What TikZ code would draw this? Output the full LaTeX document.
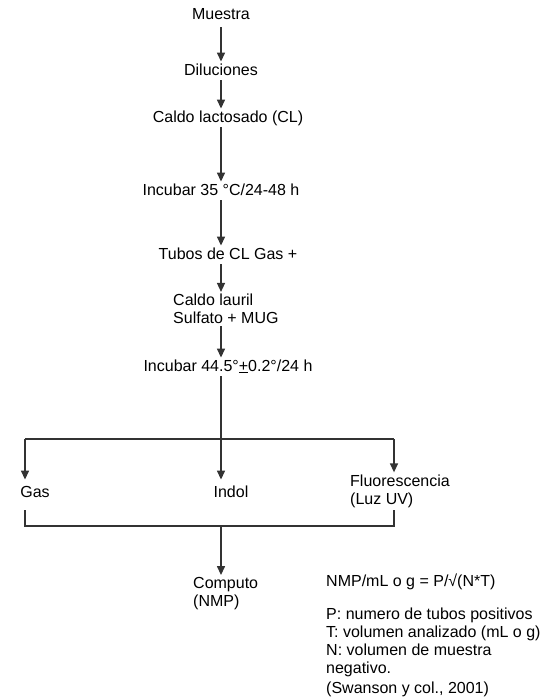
\documentclass[tikz,border=0pt]{standalone}
\usepackage{fontspec}
\setmainfont{Liberation Sans}
\usepackage{tikz}
\usetikzlibrary{positioning, arrows.meta}

\begin{document}
\begin{tikzpicture}[
    x=1pt, y=-1pt,
    every node/.style={font=\fontsize{16}{18}\selectfont, inner sep=2pt},
    paso/.style={text height=11.5pt, text depth=3pt},
    bloque/.style={align=left},
    flecha/.style={draw=black!80, line width=1.4pt, -{Triangle[length=9pt, width=8pt]}},
    linea/.style={draw=black!80, line width=1.4pt}
]
\useasboundingbox (0,0) rectangle (549,699);
\node[paso] (muestra) at (221,15) {Muestra};
\node[paso] (dil) at (221,71) {Diluciones};
\node[paso] (cl) at (228,118) {Caldo lactosado (CL)};
\node[paso] (inc1) at (221,191) {Incubar 35 °C/24-48 h};
\node[paso] (tubos) at (228,255) {Tubos de CL Gas +};
\node[bloque, anchor=west] (lauril) at (171,309) {Caldo lauril\\Sulfato + MUG};
\node[paso] (inc2) at (228,367) {Incubar 44.5°\underline{+}0.2°/24 h};
\node[paso] (gas) at (35,493) {Gas};
\node[paso] (indol) at (231,493) {Indol};
\node[bloque, anchor=west] (fluor) at (348,491) {Fluorescencia\\(Luz UV)};
\node[bloque, anchor=west] (computo) at (191,593.5) {Computo\\(NMP)};
\node[bloque, anchor=north west] (notas) at (324,572) {NMP/mL o g = P/√(N*T)\\[15pt]
    P: numero de tubos positivos\\
    T: volumen analizado (mL o g)\\
    N: volumen de muestra\\
    negativo.\\[2pt]
    (Swanson y col., 2001)};

\coordinate (ramaizq) at (25,439);
\coordinate (ramader) at (394,439);
\coordinate (unionizq) at (25,526);
\coordinate (unionder) at (394,526);

\draw[flecha, shorten <=3pt] (muestra) -- (muestra |- dil.north);
\draw[flecha] (dil) -- (muestra |- cl.north);
\draw[flecha] (cl.south -| muestra) -- (muestra |- inc1.north);
\draw[flecha] (inc1) -- (muestra |- tubos.north);
\draw[flecha] (tubos.south -| muestra) -- (muestra |- lauril.north);
\draw[flecha] (lauril.south -| muestra) -- (muestra |- inc2.north);
\draw[flecha, shorten >=4pt] (inc2.south -| muestra) -- (muestra |- indol.north);
\draw[linea] (ramaizq) -- (ramader);
\draw[flecha, shorten >=4pt] (ramaizq) -- (ramaizq |- gas.north);
\draw[flecha] (ramader) -- (ramader |- fluor.north);
\draw[linea, shorten <=8pt] (unionizq |- gas.south) -- (unionizq) -- (unionder) -- (unionder |- fluor.south);
\draw[flecha] (unionizq -| muestra) -- (muestra |- computo.north);
\end{tikzpicture}
\end{document}
